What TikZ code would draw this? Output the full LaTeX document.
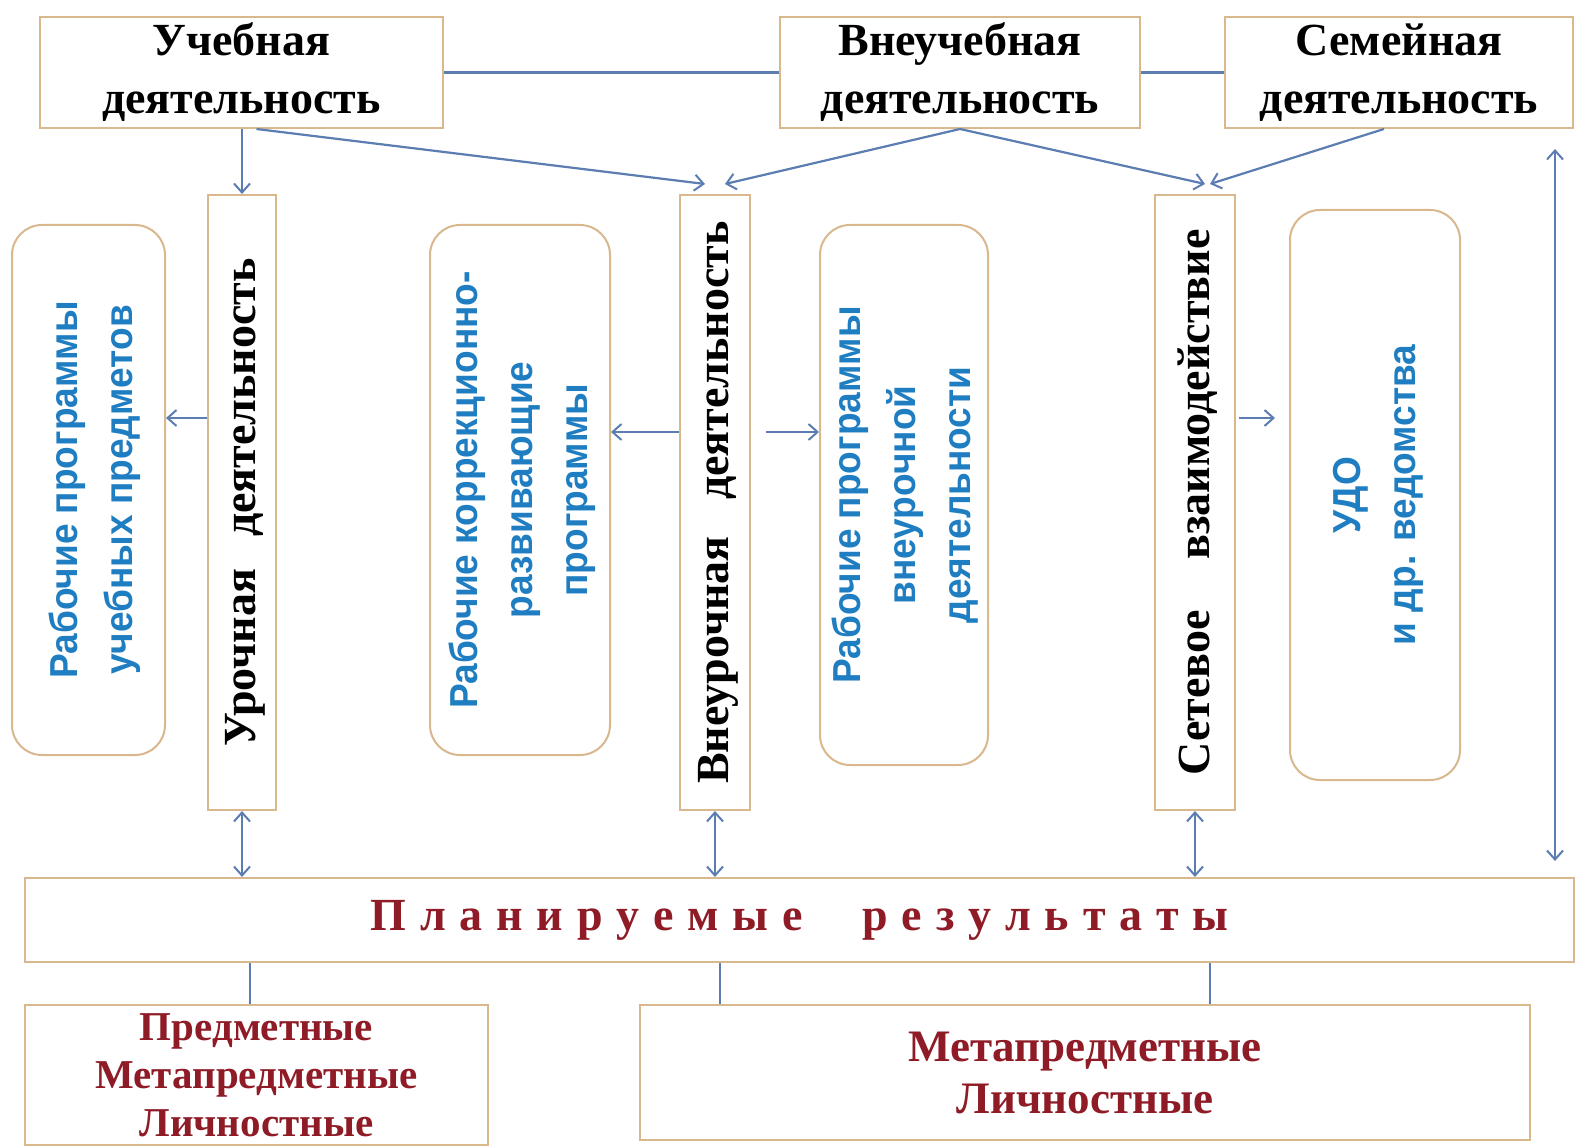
\documentclass[tikz,border=0pt]{standalone}
\usepackage{fontspec}
\setmainfont{Liberation Serif}
\newfontfamily\progfont[FakeStretch=0.95]{Liberation Sans}
\usetikzlibrary{arrows.meta,calc}
\definecolor{boxline}{HTML}{D9B88E}
\definecolor{conn}{HTML}{5B7DB1}
\definecolor{progblue}{HTML}{1F7DC1}
\definecolor{darkred}{HTML}{8E1B26}
\newcommand\ks{\hspace{0.3em}}
\tikzset{
  topbox/.style={draw=boxline, line width=2pt, inner sep=0pt, align=center,
    font=\fontsize{46}{58}\selectfont\bfseries},
  vbox/.style={draw=boxline, line width=2pt, inner sep=0pt},
  vtext/.style={rotate=90, inner sep=0pt, font=\fontsize{46}{50}\selectfont\bfseries},
  progbox/.style={draw=boxline, line width=2pt, rounded corners=30pt, inner sep=0pt},
  progtext/.style={rotate=90, inner sep=0pt, align=center, text=progblue,
    font=\fontsize{39}{55}\selectfont\bfseries\progfont},
  resbox/.style={draw=boxline, line width=2pt, inner sep=0pt, align=center, text=darkred,
    font=\fontsize{45}{52}\selectfont\bfseries},
  conline/.style={draw=conn, line width=2.2pt},
  arr/.style={conline, -{Straight Barb[length=9pt,width=16pt,line width=2pt]}},
  darr/.style={conline, {Straight Barb[length=9pt,width=16pt,line width=2pt]}-{Straight Barb[length=9pt,width=16pt,line width=2pt]}}
}
\begin{document}
\begin{tikzpicture}[x=1pt,y=-1pt]
\useasboundingbox (0,0) rectangle (1576,1147);
\fill[white] (0,0) rectangle (1576,1147);

% top boxes
\node[topbox, minimum width=403, minimum height=111] (ucheb) at (241.5,72.5) {Учебная\\деятельность};
\node[topbox, minimum width=360, minimum height=111] (vneucheb) at (960,72.5) {Внеучебная\\деятельность};
\node[topbox, minimum width=348, minimum height=111] (semej) at (1399,72.5) {Семейная\\деятельность};

\draw[conline] (ucheb.east) -- (vneucheb.west);
\draw[conline] (vneucheb.east) -- (semej.west);

% vertical activity boxes
\node[vbox, minimum width=68, minimum height=615] (uroch) at (242,502.5) {};
\node[vtext] (uroch-t) at ($(uroch.center)+(3,0)$) {Урочная\hspace{0.7em}деятельность};
\node[vbox, minimum width=70, minimum height=615] (vneur) at (715,502.5) {};
\node[vtext] (vneur-t) at ($(vneur.center)+(3,0)$) {Внеурочная\hspace{0.8em}деятельность};
\node[vbox, minimum width=80, minimum height=615] (setev) at (1195,502.5) {};
\node[vtext] (setev-t) at ($(setev.center)+(3,0)$) {Сетевое\hspace{1.1em}взаимодействие};

% program boxes
\node[progbox, minimum width=153, minimum height=530] (p1) at (88.5,490) {};
\node[progtext] (p1-t) at ($(p1.center)+(6,0)$) {Рабочие программы\\учебных предметов};
\node[progbox, minimum width=180, minimum height=530] (p2) at (520,490) {};
\node[progtext] (p2-t) at ($(p2.center)+(2,0)$) {Рабочие коррекционно-\\развивающие\\программы};
\node[progbox, minimum width=168, minimum height=540] (p3) at (904,495) {};
\node[progtext] (p3-t) at ($(p3.center)+(1,0)$) {Рабочие программы\\внеурочной\\деятельности};
\node[progbox, minimum width=170, minimum height=570] (p4) at (1375,495) {};
\node[progtext] (p4-t) at ($(p4.center)+(3,0)$) {УДО\\и др. ведомства};

% arrows from top boxes
\draw[arr] (ucheb.south -| uroch.north) -- (uroch.north);
\draw[arr] ([xshift=15pt]ucheb.south) -- ([xshift=-10pt,yshift=10pt]vneur.north);
\draw[arr] (vneucheb.south) -- ([xshift=10pt,yshift=10pt]vneur.north);
\draw[arr] (vneucheb.south) -- ([xshift=10pt,yshift=10pt]setev.north);
\draw[arr] ([xshift=-15pt]semej.south) -- ([xshift=15pt,yshift=10pt]setev.north);

% side arrows
\draw[arr] (uroch.west |- 0,418) -- (p1.east |- 0,418);
\draw[arr] (vneur.west |- 0,432) -- (p2.east |- 0,432);
\draw[arr, shorten <=15pt] (vneur.east |- 0,432) -- (p3.west |- 0,432);
\draw[arr, shorten <=3pt, shorten >=14pt] (setev.east |- 0,418) -- (p4.west |- 0,418);

% planned results
\node[resbox, minimum width=1549, minimum height=84, font=\fontsize{46}{50}\selectfont\bfseries] (plan) at (799.5,920)
  {П\ks л\ks а\ks н\ks и\ks р\ks у\ks е\ks м\ks ы\ks е\hspace{1.3em}р\ks е\ks з\ks у\ks л\ks ь\ks т\ks а\ks т\ks ы};

\draw[darr] (uroch.south) -- (plan.north -| uroch.south);
\draw[darr] (vneur.south) -- (plan.north -| vneur.south);
\draw[darr] (setev.south) -- (plan.north -| setev.south);

\coordinate (rt) at (1555,0);
\draw[darr, shorten <=20pt, shorten >=16pt] (semej.south -| rt) -- (plan.north -| rt);

% bottom result boxes
\node[resbox, minimum width=463, minimum height=140, font=\fontsize{41}{48}\selectfont\bfseries] (res1) at (256.5,1075) {Предметные\\Метапредметные\\Личностные};
\node[resbox, minimum width=890, minimum height=135] (res2) at (1085,1072.5) {Метапредметные\\Личностные};

\draw[conline] (plan.south -| 250,0) -- (res1.north -| 250,0);
\draw[conline] (plan.south -| 720,0) -- (res2.north -| 720,0);
\draw[conline] (plan.south -| 1210,0) -- (res2.north -| 1210,0);
\end{tikzpicture}
\end{document}
